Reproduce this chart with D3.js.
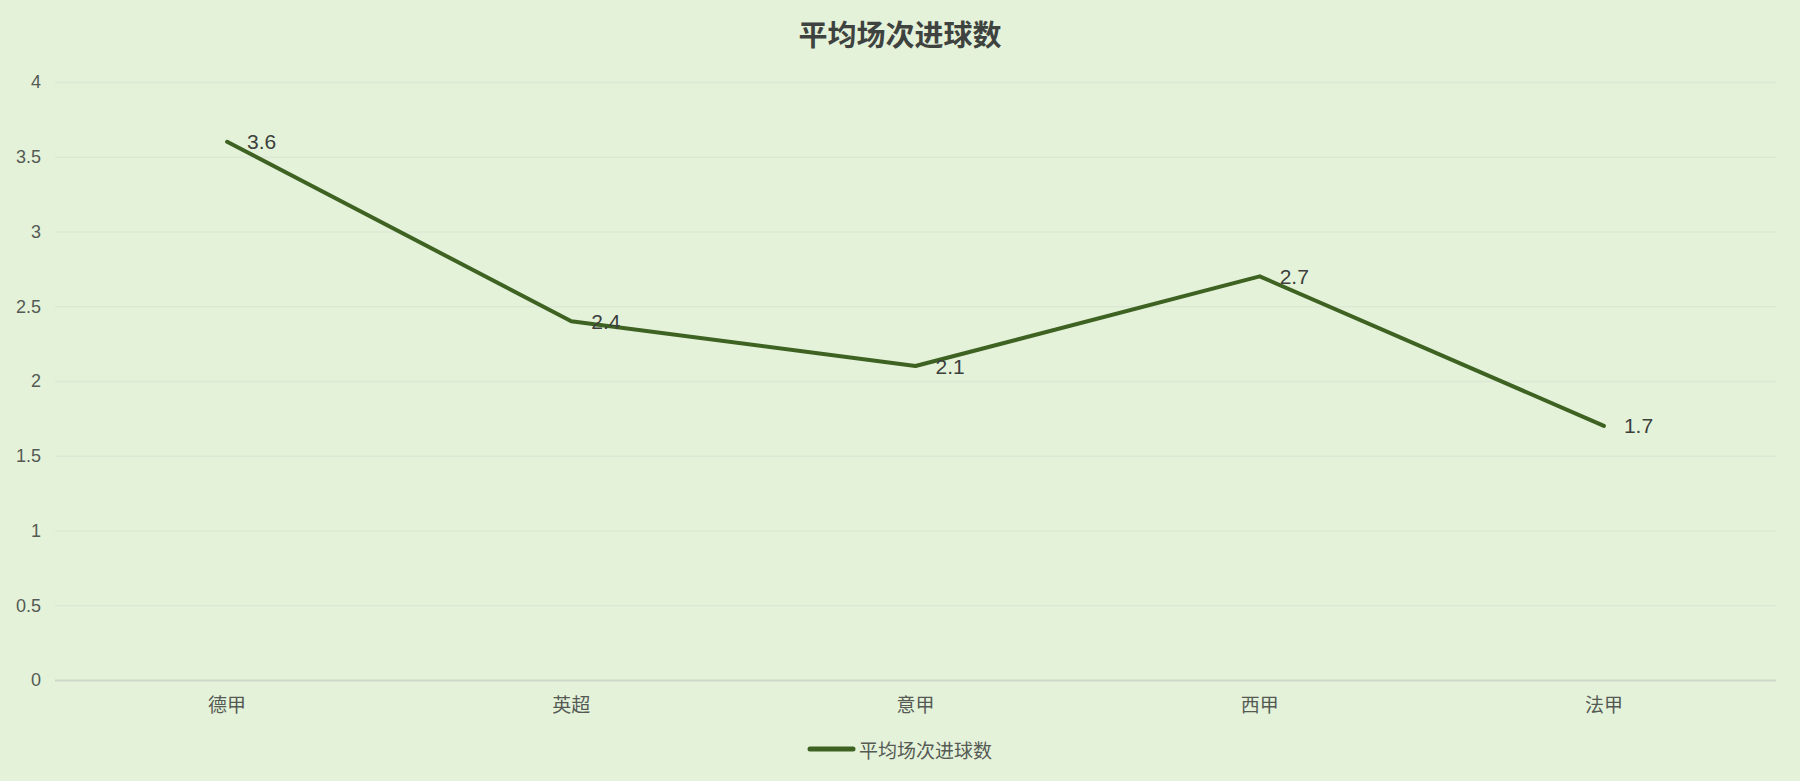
<!DOCTYPE html>
<html>
<head>
    <meta charset="utf-8">
    <title>平均场次进球数</title>
    <script src="https://d3js.org/d3.v7.min.js"></script>
    <style>
        body, html {
            margin: 0;
            padding: 0;
            background: #e4f2d9;
        }
        text {
            font-family: 'Liberation Sans', 'Noto Sans CJK SC', sans-serif;
        }
    </style>
</head>
<body>
<script>
    // chart data
    const leagues = ["德甲", "英超", "意甲", "西甲", "法甲"];
    const goalsPerMatch = [3.6, 2.4, 2.1, 2.7, 1.7];
    const yTicks = [0, 0.5, 1, 1.5, 2, 2.5, 3, 3.5, 4];
    const seriesName = "平均场次进球数";

    const width = 1800, height = 781;
    const margin = {top: 82, right: 24, bottom: 101, left: 55};

    const svg = d3.select("body").append("svg")
        .attr("width", width)
        .attr("height", height)
        .style("display", "block")
        .style("background", "#e4f2d9");

    const x = d3.scaleBand()
        .domain(leagues)
        .range([margin.left, width - margin.right]);

    const y = d3.scaleLinear()
        .domain([0, 4])
        .range([height - margin.bottom, margin.top]);

    // title
    svg.append("text")
        .attr("x", width / 2)
        .attr("y", 33)
        .attr("text-anchor", "middle")
        .attr("dominant-baseline", "central")
        .style("font-family", "'Noto Sans CJK SC', sans-serif")
        .style("font-weight", "bold")
        .style("font-size", "29px")
        .attr("fill", "#3f4340")
        .text(seriesName);

    // gridlines + y labels
    const yAxis = svg.append("g")
        .attr("transform", `translate(${margin.left},0)`)
        .call(d3.axisLeft(y).tickValues(yTicks).tickSize(-(width - margin.left - margin.right)).tickPadding(14).tickFormat(d3.format("")));
    yAxis.select(".domain").remove();
    yAxis.selectAll(".tick line")
        .attr("stroke", d => d === 0 ? "#cdd8c8" : "#dce8d6")
        .attr("stroke-width", d => d === 0 ? 2 : 1.5);
    yAxis.selectAll(".tick text")
        .attr("fill", "#555a55")
        .style("font-size", "18px");

    // x labels
    const xAxis = svg.append("g")
        .attr("transform", `translate(0,${height - margin.bottom})`)
        .call(d3.axisBottom(x).tickSize(0).tickPadding(19));
    xAxis.select(".domain").remove();
    xAxis.selectAll(".tick text")
        .attr("fill", "#555a55")
        .style("font-family", "'Noto Sans CJK SC', sans-serif")
        .style("font-size", "19px");

    const cx = d => x(d) + x.bandwidth() / 2;

    // line
    const line = d3.line()
        .x((d, i) => cx(leagues[i]))
        .y(d => y(d));

    svg.append("path")
        .datum(goalsPerMatch)
        .attr("d", line)
        .attr("fill", "none")
        .attr("stroke", "#3e6222")
        .attr("stroke-width", 4)
        .attr("stroke-linecap", "round")
        .attr("stroke-linejoin", "round");

    // value labels
    svg.append("g")
        .selectAll("text")
        .data(goalsPerMatch)
        .join("text")
        .attr("x", (d, i) => cx(leagues[i]) + 20)
        .attr("y", d => y(d))
        .attr("dominant-baseline", "central")
        .attr("fill", "#3c3f3c")
        .style("font-size", "21px")
        .text(d => d);

    // legend
    const legend = svg.append("g")
        .attr("transform", "translate(810,749)");
    legend.append("line")
        .attr("x1", 0).attr("x2", 43)
        .attr("stroke", "#3e6222")
        .attr("stroke-width", 5)
        .attr("stroke-linecap", "round");
    legend.append("text")
        .attr("x", 49)
        .attr("dominant-baseline", "central")
        .attr("fill", "#555a55")
        .style("font-family", "'Noto Sans CJK SC', sans-serif")
        .style("font-size", "19px")
        .text(seriesName);
</script>
</body>
</html>
